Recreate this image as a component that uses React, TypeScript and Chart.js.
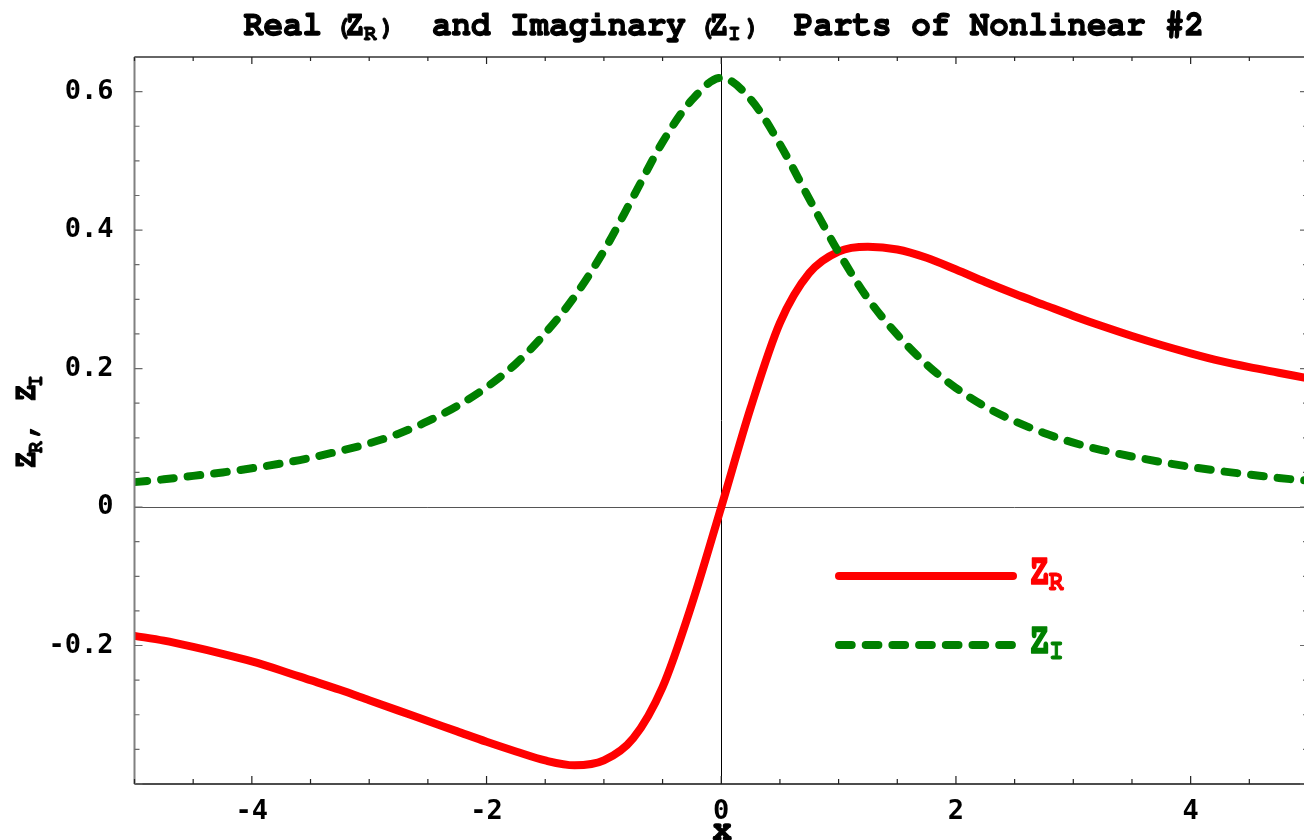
import { useEffect, useRef } from "react";
import { Chart, registerables } from "chart.js";

Chart.register(...registerables);

// Sample abscissae for both curves
const X_VALUES = [
  -5, -4.75, -4.5, -4.25, -4, -3.75, -3.5, -3.25, -3, -2.75, -2.5, -2.25, -2, -1.75, -1.5, -1.25, -1,
  -0.75, -0.5, -0.25, 0, 0.25, 0.5, 0.75, 1, 1.25, 1.5, 1.75, 2, 2.25, 2.5, 2.75, 3, 3.25, 3.5, 3.75,
  4, 4.25, 4.5, 4.75, 5,
];

// Real part Z_R
const Z_REAL = [
  -0.186, -0.193, -0.202, -0.212, -0.223, -0.236, -0.25, -0.264, -0.279, -0.294, -0.309, -0.324,
  -0.339, -0.353, -0.366, -0.373, -0.366, -0.334, -0.26, -0.14, 0.0, 0.143, 0.266, 0.338, 0.369,
  0.376, 0.372, 0.36, 0.343, 0.325, 0.308, 0.292, 0.276, 0.261, 0.247, 0.234, 0.222, 0.211, 0.202,
  0.194, 0.186,
];

// Imaginary part Z_I
const Z_IMAG = [
  0.036, 0.04, 0.045, 0.05, 0.056, 0.063, 0.071, 0.081, 0.092, 0.106, 0.124, 0.146, 0.173, 0.207,
  0.251, 0.304, 0.37, 0.448, 0.527, 0.588, 0.62, 0.589, 0.524, 0.445, 0.368, 0.301, 0.249, 0.206,
  0.172, 0.145, 0.124, 0.107, 0.093, 0.082, 0.073, 0.065, 0.058, 0.052, 0.047, 0.042, 0.038,
];

const X_TICK_LABELS = [-4, -2, 0, 2, 4];
const Y_TICK_LABELS = [0.6, 0.4, 0.2, 0, -0.2];
const X_RANGE = [-5, 5];
const Y_RANGE = [-0.4, 0.65];

const COURIER = '"FreeMono", "Courier New", Courier, monospace';
const TICK_FONT = '"DejaVu Sans Mono", monospace';

type Run = { t: string; x: number; s: number; dy?: number; sx?: number };

// Title pieces (text, left x, font size, baseline shift for subscripts)
const TITLE_RUNS: Run[] = [
  { t: "Real", x: 244, s: 35, sx: 0.93 },
  { t: "(", x: 335, s: 27, sx: 0.93 },
  { t: "Z", x: 345, s: 35, sx: 0.93 },
  { t: "R", x: 364, s: 23, dy: 5, sx: 0.93 },
  { t: ")", x: 380, s: 27, sx: 0.93 },
  { t: "and Imaginary", x: 432, s: 35, sx: 0.93 },
  { t: "(", x: 699, s: 27, sx: 0.93 },
  { t: "Z", x: 709, s: 35, sx: 0.93 },
  { t: "I", x: 728, s: 23, dy: 5, sx: 0.93 },
  { t: ")", x: 745, s: 27, sx: 0.93 },
  { t: "Parts of Nonlinear #2", x: 794, s: 35, sx: 0.93 },
];

// Vertical axis title, laid out along the rotated baseline
const Y_TITLE_RUNS: Run[] = [
  { t: "Z", x: -1, s: 34 },
  { t: "R", x: 15, s: 22, dy: 7 },
  { t: ",", x: 28, s: 34 },
  { t: "Z", x: 66, s: 34 },
  { t: "I", x: 81, s: 22, dy: 7 },
];

const SUBSCRIPTS = ["R", "I"];
const TEXT_SQUEEZE = 0.9;

// Heavy, slightly condensed Courier-style text: fill plus a thin outline in the same colour
function heavyText(
  ctx: CanvasRenderingContext2D,
  text: string,
  x: number,
  y: number,
  size: number,
  color: string,
  sx = TEXT_SQUEEZE
) {
  ctx.save();
  ctx.translate(x, y);
  ctx.scale(sx, 1);
  ctx.font = `bold ${size}px ${COURIER}`;
  ctx.fillStyle = color;
  ctx.strokeStyle = color;
  ctx.lineWidth = Math.max(0.9, size / 28);
  ctx.lineJoin = "round";
  ctx.setLineDash([]);
  ctx.fillText(text, 0, 0);
  ctx.strokeText(text, 0, 0);
  ctx.restore();
}

function drawRuns(ctx: CanvasRenderingContext2D, runs: Run[], baseY: number, color: string) {
  ctx.textAlign = "left";
  ctx.textBaseline = "alphabetic";
  for (const r of runs) heavyText(ctx, r.t, r.x, baseY + (r.dy || 0), r.s, color, r.sx ?? TEXT_SQUEEZE);
}

const near = (a: number, b: number) => Math.abs(a - b) < 1e-6;

const chromePlugin = {
  id: "plotChrome",
  beforeDatasetsDraw(chart: any) {
    const { ctx, chartArea: a, scales } = chart;
    const x0 = scales.x.getPixelForValue(0);
    const y0 = scales.y.getPixelForValue(0);
    ctx.save();
    ctx.lineWidth = 1;
    ctx.strokeStyle = "#555";
    ctx.beginPath();
    ctx.moveTo(a.left, Math.round(y0) + 0.5);
    ctx.lineTo(a.right, Math.round(y0) + 0.5);
    ctx.stroke();
    ctx.strokeStyle = "#000";
    ctx.beginPath();
    ctx.moveTo(Math.round(x0) + 0.5, a.top);
    ctx.lineTo(Math.round(x0) + 0.5, a.bottom);
    ctx.stroke();
    ctx.restore();
  },
  afterDatasetsDraw(chart: any) {
    const { ctx, chartArea: a, scales } = chart;
    const xs = scales.x;
    const ys = scales.y;
    ctx.save();

    // frame
    ctx.lineCap = "butt";
    ctx.lineWidth = 1.5;
    ctx.strokeStyle = "#333";
    ctx.beginPath();
    ctx.moveTo(a.left, a.top);
    ctx.lineTo(a.right, a.top);
    ctx.stroke();
    ctx.strokeStyle = "#111";
    ctx.beginPath();
    ctx.moveTo(a.left, a.bottom);
    ctx.lineTo(a.right, a.bottom);
    ctx.stroke();
    ctx.lineWidth = 2;
    ctx.strokeStyle = "#808080";
    ctx.beginPath();
    ctx.moveTo(a.left, a.top);
    ctx.lineTo(a.left, a.bottom);
    ctx.moveTo(a.right, a.top);
    ctx.lineTo(a.right, a.bottom);
    ctx.stroke();

    // inward tick marks
    ctx.lineWidth = 1.2;
    ctx.strokeStyle = "#222";
    for (const t of xs.ticks) {
      const v = t.value;
      const major = near(v / 2, Math.round(v / 2));
      const len = major ? 8 : 5;
      const px = xs.getPixelForValue(v);
      ctx.beginPath();
      ctx.moveTo(px, a.bottom);
      ctx.lineTo(px, a.bottom - len);
      ctx.moveTo(px, a.top);
      ctx.lineTo(px, a.top + len - 1);
      ctx.stroke();
    }
    ctx.strokeStyle = "#6a6a6a";
    for (const t of ys.ticks) {
      const v = t.value;
      const major = near(v / 0.2, Math.round(v / 0.2));
      const len = major ? 8 : 5;
      const py = ys.getPixelForValue(v);
      ctx.beginPath();
      ctx.moveTo(a.left, py);
      ctx.lineTo(a.left + len, py);
      ctx.moveTo(a.right, py);
      ctx.lineTo(a.right - len, py);
      ctx.stroke();
    }

    // legend
    const rows = [576, 645];
    chart.data.datasets.forEach((ds: any, i: number) => {
      const yy = rows[i];
      ctx.save();
      ctx.strokeStyle = ds.borderColor;
      ctx.lineWidth = ds.borderWidth;
      ctx.lineCap = "round";
      ctx.setLineDash(ds.borderDash || []);
      ctx.beginPath();
      ctx.moveTo(839, yy);
      ctx.lineTo(1013, yy);
      ctx.stroke();
      ctx.restore();
      ctx.textAlign = "left";
      ctx.textBaseline = "alphabetic";
      heavyText(ctx, "Z", 1029, yy + 8, 44, ds.borderColor, 0.8);
      heavyText(ctx, SUBSCRIPTS[i], 1049, yy + 14, 29, ds.borderColor, 0.85);
    });

    // title
    drawRuns(ctx, TITLE_RUNS, 35, "#000");

    // x axis title
    ctx.textAlign = "center";
    ctx.textBaseline = "alphabetic";
    heavyText(ctx, "x", xs.getPixelForValue(0) + 1, 840, 36, "#000");

    // y axis title
    ctx.save();
    ctx.translate(35, 468);
    ctx.rotate(-Math.PI / 2);
    drawRuns(ctx, Y_TITLE_RUNS, 0, "#000");
    ctx.restore();

    ctx.restore();
  },
};

export default function App() {
  const ref = useRef<HTMLCanvasElement | null>(null);

  useEffect(() => {
    const canvas = ref.current;
    if (!canvas) return;
    const chart = new Chart(canvas, {
      type: "line",
      data: {
        datasets: [
          {
            label: "Z_R",
            data: X_VALUES.map((x, i) => ({ x, y: Z_REAL[i] })),
            borderColor: "#ff0000",
            borderWidth: 8,
            pointRadius: 0,
            cubicInterpolationMode: "monotone",
            borderCapStyle: "round",
            borderJoinStyle: "round",
            clip: 0,
            order: 1,
          },
          {
            label: "Z_I",
            data: X_VALUES.map((x, i) => ({ x, y: Z_IMAG[i] })),
            borderColor: "#008000",
            borderWidth: 8,
            borderDash: [12.7, 14],
            pointRadius: 0,
            cubicInterpolationMode: "monotone",
            borderCapStyle: "round",
            borderJoinStyle: "round",
            clip: 0,
            order: 0,
          },
        ],
      },
      options: {
        animation: false,
        responsive: false,
        devicePixelRatio: 1,
        events: [],
        layout: { padding: { left: 0, top: 57, right: 2.5, bottom: 0 } },
        plugins: { legend: { display: false }, tooltip: { enabled: false }, title: { display: false } },
        scales: {
          x: {
            type: "linear",
            min: X_RANGE[0],
            max: X_RANGE[1],
            grid: { display: false, drawTicks: false },
            border: { display: false },
            ticks: {
              stepSize: 0.5,
              autoSkip: false,
              maxRotation: 0,
              padding: 12,
              color: "#000",
              font: { family: TICK_FONT, size: 27, weight: "bold" },
              callback: (value: any) => {
                const hit = X_TICK_LABELS.find((t) => near(t, Number(value)));
                return hit === undefined ? "" : String(hit);
              },
            },
            afterFit: (s: any) => {
              s.height = 56;
              s.paddingLeft = 0;
              s.paddingRight = 0;
            },
          },
          y: {
            type: "linear",
            min: Y_RANGE[0],
            max: Y_RANGE[1],
            grid: { display: false, drawTicks: false },
            border: { display: false },
            ticks: {
              stepSize: 0.05,
              autoSkip: false,
              padding: 21,
              color: "#000",
              font: { family: TICK_FONT, size: 27, weight: "bold" },
              callback: (value: any) => {
                const hit = Y_TICK_LABELS.find((t) => near(t, Number(value)));
                if (hit === undefined) return "";
                return hit === 0 ? "0" : hit.toFixed(1);
              },
            },
            afterFit: (s: any) => {
              s.width = 134.5;
              s.paddingTop = 0;
              s.paddingBottom = 0;
            },
          },
        },
      },
      plugins: [chromePlugin],
    } as any);

    // redraw once the faces are ready for canvas text
    let alive = true;
    const fonts: any = (document as any).fonts;
    if (fonts && fonts.load) {
      Promise.all([fonts.load(`bold 32px "FreeMono"`), fonts.load(`bold 27px "DejaVu Sans Mono"`)])
        .catch(() => undefined)
        .then(() => {
          if (alive) chart.update();
        });
    }
    return () => {
      alive = false;
      chart.destroy();
    };
  }, []);

  return (
    <div
      style={{
        position: "fixed",
        left: 0,
        top: 0,
        width: 1304,
        height: 840,
        overflow: "hidden",
        background: "#fff",
      }}
    >
      <canvas ref={ref} width={1312} height={840} style={{ display: "block" }} />
    </div>
  );
}
